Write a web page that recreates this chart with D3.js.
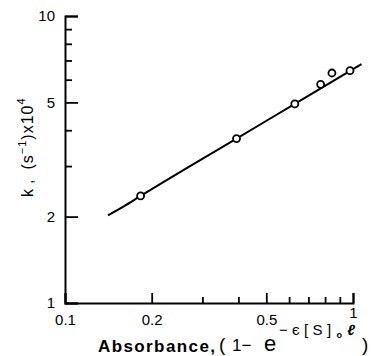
<!DOCTYPE html>
<html>
<head>
<meta charset="utf-8">
<script src="https://cdn.jsdelivr.net/npm/d3@7"></script>
<style>
  body { margin: 0; background: #fff; }
  text { font-family: "Liberation Sans", Arial, sans-serif; fill: #000; }
</style>
</head>
<body>
<div id="chart"></div>
<script>
// Data
const absorbance = [0.183, 0.394, 0.628, 0.772, 0.845, 0.976];
const rateK = [2.36, 3.74, 4.94, 5.78, 6.33, 6.45];

// the drawn fit line
const fitX = [0.141, 0.16, 0.183, 0.394, 0.628, 1.07];
const fitY = [2.02, 2.17, 2.36, 3.74, 4.94, 6.8];

const xMajor = [0.1, 0.2, 0.5, 1];
const xMajorLabels = ["0.1", "0.2", "0.5", "1"];
const xMinor = [0.3, 0.4, 0.6, 0.7, 0.8, 0.9];
const yMajor = [1, 2, 5, 10];
const yMajorLabels = ["1", "2", "5", "10"];
const yMinor = [3, 4, 6, 7, 8, 9];

const width = 373, height = 356;
const margin = { top: 16, right: 20, bottom: 53, left: 65 };

const x = d3.scaleLog()
    .domain([0.1, 1])
    .range([margin.left, width - margin.right]);

const y = d3.scaleLog()
    .domain([1, 10])
    .range([height - margin.bottom, margin.top]);

const svg = d3.select("#chart")
    .append("svg")
    .attr("width", width)
    .attr("height", height);

// x axis, ticks pointing up into the plot
const xg = svg.append("g")
    .attr("transform", `translate(0,${y(1)})`)
    .call(d3.axisBottom(x)
        .tickValues(xMajor)
        .tickSize(-10)
        .tickPadding(11)
        .tickFormat((d, i) => xMajorLabels[i]));
// the "1" label sits a little higher, above the exponent
xg.selectAll(".tick text").filter(d => d === 1).attr("y", 4);

svg.append("g")
    .attr("transform", `translate(0,${y(1)})`)
    .call(d3.axisBottom(x)
        .tickValues(xMinor)
        .tickSize(-6)
        .tickFormat(""))
    .select(".domain").remove();

// y axis, ticks pointing right into the plot
svg.append("g")
    .attr("transform", `translate(${x(0.1)},0)`)
    .call(d3.axisLeft(y)
        .tickValues(yMajor)
        .tickSize(-13)
        .tickPadding(10)
        .tickFormat((d, i) => yMajorLabels[i]));
svg.append("g")
    .attr("transform", `translate(${x(0.1)},0)`)
    .call(d3.axisLeft(y)
        .tickValues(yMinor)
        .tickSize(-7)
        .tickFormat(""))
    .select(".domain").remove();

svg.selectAll(".domain").attr("stroke", "#000").attr("stroke-width", 2);
svg.selectAll(".tick line").attr("stroke", "#000").attr("stroke-width", 1.8);
svg.selectAll(".tick text")
    .style("font-size", "15px")
    .style("font-family", "'Liberation Sans', Arial, sans-serif")
    .attr("fill", "#000");

// fit line
const line = d3.line()
    .x(d => x(d[0]))
    .y(d => y(d[1]))
    .curve(d3.curveMonotoneX);

svg.append("path")
    .datum(fitX.map((v, i) => [v, fitY[i]]))
    .attr("fill", "none")
    .attr("stroke", "#000")
    .attr("stroke-width", 2)
    .attr("d", line);

// data points
svg.selectAll("circle.pt")
    .data(absorbance.map((v, i) => [v, rateK[i]]))
    .join("circle")
    .attr("class", "pt")
    .attr("cx", d => x(d[0]))
    .attr("cy", d => y(d[1]))
    .attr("r", 3.5)
    .attr("fill", "#fff")
    .attr("stroke", "#000")
    .attr("stroke-width", 1.8);

// x title
const xt = svg.append("g");
xt.append("text")
    .attr("x", 98).attr("y", 352)
    .attr("textLength", 117)
    .attr("lengthAdjust", "spacing")
    .style("font-size", "17px")
    .style("font-weight", "bold")
    .text("Absorbance,");
xt.append("text")
    .attr("x", 219).attr("y", 351)
    .style("font-size", "19px")
    .text("(");
xt.append("text")
    .attr("x", 232).attr("y", 351)
    .style("font-size", "17px")
    .text("1−");
xt.append("text")
    .attr("x", 264).attr("y", 351)
    .style("font-size", "22px")
    .text("e");
const sup = xt.append("text")
    .attr("x", 279).attr("y", 335)
    .style("font-size", "15px");
sup.append("tspan").text("−є[S]");
sup.append("tspan").attr("dx", 1).attr("dy", 3).style("font-size", "9px").style("font-weight", "bold").text("o");
sup.append("tspan").attr("dx", 1).attr("dy", -3).style("font-style", "italic").style("font-weight", "bold").text("ℓ");
sup.attr("textLength", 76).attr("lengthAdjust", "spacing");
xt.append("text")
    .attr("x", 362).attr("y", 351)
    .style("font-size", "19px")
    .text(")");

// y title
const yt = svg.append("text")
    .attr("transform", "translate(33,197) rotate(-90)")
    .style("font-size", "16px")
    .style("letter-spacing", "1px");
yt.append("tspan").text("k");
yt.append("tspan").attr("dx", 4).text(",");
yt.append("tspan").attr("dx", 9).text("(s");
yt.append("tspan").attr("dy", -7).style("font-size", "11px").text("−1");
yt.append("tspan").attr("dy", 7).text(")x10");
yt.append("tspan").attr("dy", -8).style("font-size", "11px").text("4");
</script>
</body>
</html>
